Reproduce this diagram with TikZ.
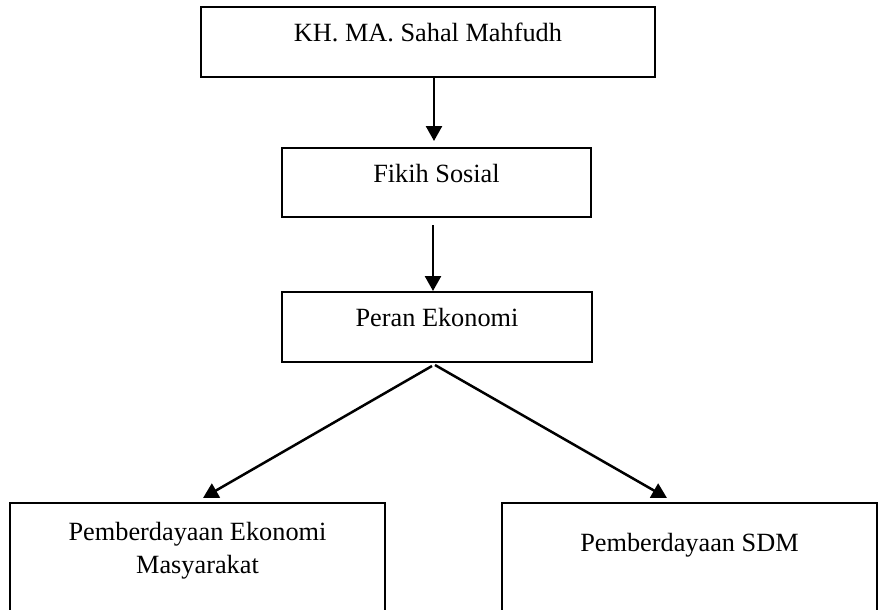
\documentclass[tikz,border=0pt]{standalone}
\usepackage{fontspec}
\setmainfont{Liberation Serif}
\usetikzlibrary{arrows.meta}
\begin{document}
\begin{tikzpicture}[x=1pt,y=-1pt,
  box/.style={draw, line width=2pt, rectangle, inner sep=0pt,
    font=\fontsize{26.3}{33}\selectfont, align=center},
  arr/.style={line width=2.5pt, -{Triangle[length=15pt,width=16pt]}}]
\useasboundingbox (0,0) rectangle (879,610);
\clip (0,0) rectangle (879,610);
\fill[white] (0,0) rectangle (879,610);
\node[box, minimum width=454pt, minimum height=70pt, text height=18pt, text depth=18pt] (b1) at (428,42) {KH. MA. Sahal Mahfudh};
\node[box, minimum width=309pt, minimum height=69pt, text height=18pt, text depth=18pt] (b2) at (436.5,182.5) {Fikih Sosial};
\node[box, minimum width=310pt, minimum height=70pt, text height=18pt, text depth=20pt] (b3) at (437,327) {Peran Ekonomi};
\node[box, minimum width=375pt, minimum height=140pt, text height=51pt, text depth=51pt] (b4) at (197.5,573) {Pemberdayaan Ekonomi\\Masyarakat};
\node[box, minimum width=375pt, minimum height=140pt, text height=18pt, text depth=60.6pt] (b5) at (689.5,573) {Pemberdayaan SDM};
\coordinate (s1) at (434,77);
\coordinate (e1) at (434,141);
\coordinate (s2) at (433,225);
\coordinate (e2) at (433,291);
\coordinate (s3) at (432,366);
\coordinate (e3) at (203,498);
\coordinate (s4) at (435,365);
\coordinate (e4) at (667,498);
\draw[arr] (s1) -- (e1);
\draw[arr] (s2) -- (e2);
\draw[arr] (s3) -- (e3);
\draw[arr] (s4) -- (e4);
\end{tikzpicture}
\end{document}
